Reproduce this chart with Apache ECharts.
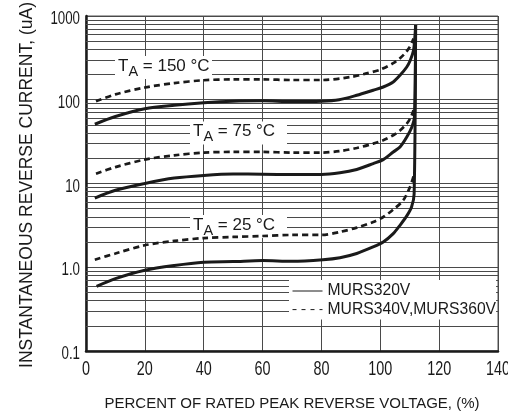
<!DOCTYPE html>
<html>
<head>
<meta charset="utf-8">
<script src="https://cdn.jsdelivr.net/npm/echarts@6/dist/echarts.min.js"></script>
<style>
html,body{margin:0;padding:0;background:#fff;}
#c{width:508px;height:417px;}
</style>
</head>
<body>
<div id="c"></div>
<script>
// Axis ranges and tick labels
const xMin = 0, xMax = 140, xStep = 20;
const xTicks = [0, 20, 40, 60, 80, 100, 120, 140];
const yMin = 0.1, yMax = 1000;
const yTicks = [0.1, 1, 10, 100, 1000];
const yTickLabels = ['0.1', '1.0', '10', '100', '1000'];
// minor log grid values
const minorGrid = [0.2,0.3,0.4,0.5,0.6,0.7,0.8,0.9,2,3,4,5,6,7,8,9,20,30,40,50,60,70,80,90,200,300,400,500,600,700,800,900];

// MURS320V (solid) curves
const solid150 = [[3,51],[10,63],[20,78],[30,86],[40,92],[50,96],[60,97],[70,95],[80,96],[86,100],[92,113],[97.6,130],[101,142],[104.4,163],[106.7,196],[109,246],[110.2,296],[111.3,389],[111.8,590],[112,780]];
const solid75 = [[3,6.7],[10,8.3],[20,10],[30,11.6],[40,12.5],[50,13],[60,12.9],[70,12.8],[80,12.8],[86.3,13.4],[92,14.7],[97.6,17.3],[101,19.3],[104.4,23.8],[106.7,27.3],[109,35.9],[110.7,47],[111.6,62],[112,780]];
const solid25 = [[3.6,0.59],[10,0.73],[20,0.92],[30,1.05],[40,1.15],[50,1.17],[60,1.2],[70,1.18],[80.5,1.23],[86.3,1.3],[92,1.46],[97.6,1.75],[101,2.0],[104.4,2.52],[106.7,3.17],[109,4.1],[110.6,5.2],[111.5,7.5],[112,780]];

// MURS340V, MURS360V (dashed) curves
const dash150 = [[3.4,96],[10,116],[20,140],[30,158],[40,171],[50,175],[60,175],[70,172],[80,172],[90,187],[95,205],[100,229],[105,282],[108,346],[110,426],[111.3,537]];
const dash75 = [[3.4,13.1],[10,15.7],[20,19.3],[30,21.7],[40,23.4],[50,23.8],[60,23.8],[70,23.4],[80,23.4],[86.3,24.4],[92,26.5],[97.6,29.9],[101,32.8],[104.4,37.7],[106.7,43],[109,51.9],[110.4,62],[111.3,75]];
const dash25 = [[3,1.23],[10,1.46],[20,1.83],[30,2.06],[40,2.23],[50,2.3],[60,2.36],[70,2.43],[80,2.43],[86.3,2.64],[92,2.97],[97.6,3.47],[101,3.98],[104.4,4.88],[107.8,6.3],[110.1,9.1],[111.3,12.2]];

const seriesNames = ['MURS320V', 'MURS340V,MURS360V'];
const tempLabels = ['150', '75', '25'];

const ink = '#1a1a1a';
const gridColor = '#4a4a4a';
const sans = '"Liberation Sans", Arial, sans-serif';

function solidSeries(data, extra) {
  return Object.assign({
    name: seriesNames[0], type: 'line', data: data, showSymbol: false, symbol: 'none',
    smooth: 0.3, z: 3, silent: true,
    lineStyle: { color: ink, width: 3, type: 'solid' }, itemStyle: { color: ink }
  }, extra || {});
}
function dashSeries(data) {
  return {
    name: seriesNames[1], type: 'line', data: data, showSymbol: false, symbol: 'none',
    smooth: 0.3, z: 3, silent: true,
    lineStyle: { color: ink, width: 2.7, type: [6, 4] }, itemStyle: { color: ink }
  };
}

function tempLabel(x, y, t) {
  return [
    { type: 'rect', z: 1.6, shape: { x: x - 3, y: y - 10, width: 97, height: 23 }, style: { fill: '#fff' }, silent: true },
    { type: 'text', z: 1.7, x: x, y: y, silent: true,
      style: {
        text: '{n|T}{s|A}{n| = ' + t + ' °C}',
        verticalAlign: 'middle', align: 'left',
        rich: {
          n: { fontSize: 17, fontFamily: sans, fill: ink, lineHeight: 26, verticalAlign: 'middle' },
          s: { fontSize: 14.5, fontFamily: sans, fill: ink, lineHeight: 14, verticalAlign: 'bottom' }
        }
      } }
  ];
}

const chart = echarts.init(document.getElementById('c'), null, { renderer: 'canvas' });
chart.setOption({
  animation: false,
  backgroundColor: '#fff',
  grid: { left: 86, right: 10, top: 16, bottom: 66, show: true, borderColor: '#555', borderWidth: 1,
          containLabel: false, outerBoundsMode: 'none' },
  xAxis: {
    type: 'value', min: xMin, max: xMax, interval: xStep,
    axisLine: { show: true, onZero: false, lineStyle: { color: ink, width: 2.5 } },
    axisTick: { show: false },
    axisLabel: { show: false },
    splitLine: { show: true, lineStyle: { color: gridColor, width: 1 } }
  },
  yAxis: {
    type: 'log', logBase: 10, min: yMin, max: yMax, splitNumber: 4,
    axisLine: { show: true, onZero: false, lineStyle: { color: ink, width: 2.5 } },
    axisTick: { show: false },
    axisLabel: { show: false },
    splitLine: { show: true, lineStyle: { color: gridColor, width: 1 } }
  },
  legend: {
    orient: 'vertical', left: 289, top: 280, backgroundColor: '#fff', padding: [3, 0, 2, 3],
    itemWidth: 30, itemHeight: 14, itemGap: 2.6,
    textStyle: { fontSize: 15.7, fontFamily: sans, color: ink },
    selectedMode: false,
    data: [
      { name: seriesNames[0], itemStyle: { opacity: 0 }, lineStyle: { width: 1, type: 'solid', color: ink } },
      { name: seriesNames[1], itemStyle: { opacity: 0 }, lineStyle: { width: 1, type: [4, 5], color: ink } }
    ]
  },
  series: [
    solidSeries(solid150, {
      markLine: {
        z: 1, silent: true, symbol: ['none', 'none'], animation: false,
        label: { show: false }, emphasis: { disabled: true },
        lineStyle: { color: gridColor, width: 1, type: 'solid' },
        data: minorGrid.map(function (v) { return { yAxis: v }; })
      }
    }),
    solidSeries(solid75),
    solidSeries(solid25),
    dashSeries(dash150),
    dashSeries(dash75),
    dashSeries(dash25)
  ]
});

// Tick labels (condensed look) placed through the axes' own scales
const axisY0 = chart.convertToPixel({ yAxisIndex: 0 }, yMin);
const axisX0 = chart.convertToPixel({ xAxisIndex: 0 }, xMin);
const tickTexts = [];
xTicks.forEach(function (v) {
  tickTexts.push({ type: 'text', z: 5, silent: true, x: chart.convertToPixel({ xAxisIndex: 0 }, v), y: axisY0 + 18, scaleX: 0.72,
    style: { text: String(v), fontSize: 20, fontFamily: sans, fill: ink, align: 'center', verticalAlign: 'middle' } });
});
yTicks.forEach(function (v, i) {
  tickTexts.push({ type: 'text', z: 5, silent: true, x: axisX0 - 6, y: chart.convertToPixel({ yAxisIndex: 0 }, v) + 3, scaleX: 0.7,
    style: { text: yTickLabels[i], fontSize: 19, fontFamily: sans, fill: ink, align: 'right', verticalAlign: 'middle' } });
});

chart.setOption({
  graphic: [].concat(
    tempLabel(118, 66, tempLabels[0]),
    tempLabel(193, 131.5, tempLabels[1]),
    tempLabel(193, 225, tempLabels[2]),
    tickTexts,
    [
      { type: 'text', z: 5, x: 26.7, y: 185, rotation: Math.PI / 2, silent: true,
        style: { text: 'INSTANTANEOUS REVERSE CURRENT, (uA)', fontSize: 17.5, fontFamily: sans, fill: ink, align: 'center', verticalAlign: 'middle' } },
      { type: 'text', z: 5, x: 292, y: 403.7, silent: true,
        style: { text: 'PERCENT OF RATED PEAK REVERSE VOLTAGE, (%)', fontSize: 15, fontFamily: sans, fill: ink, align: 'center', verticalAlign: 'middle' } }
    ]
  )
});
</script>
</body>
</html>
